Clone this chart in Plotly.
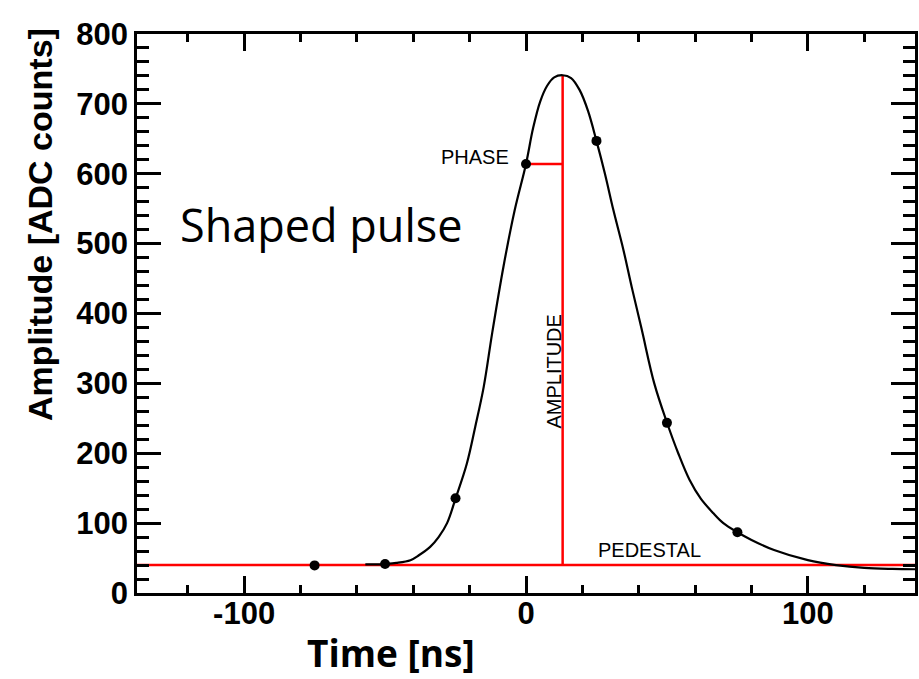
import plotly.graph_objects as go

# Sampled points (black dots)
sample_t = [-75, -50, -25, 0, 25, 50, 75]
sample_amp = [39.5, 41.5, 135.5, 614, 647, 243.5, 87]

# Fitted shaped-pulse curve
curve_t = [-57, -52, -50, -46, -41, -38, -34, -31, -28, -25, -21, -18, -15, -12, -8, -4,
           0, 2.5, 5, 7.5, 10, 13, 16, 19, 22, 25, 28, 31, 34.5, 37.5, 41, 45.5, 50,
           54, 58, 62, 66.5, 70, 75, 80, 88, 100, 110, 120, 130, 138]
curve_amp = [41, 41, 41.5, 43, 47, 54, 66, 80, 100, 135, 185, 238, 295, 372, 467, 548,
             614, 665, 703, 726, 738, 741, 737, 720, 690, 647, 600, 548, 492, 438, 378, 300, 244,
             200, 162, 135, 114, 100, 87, 76, 61.5, 47, 40, 36, 34.5, 34]

# Reconstruction parameters
pedestal = 40
peak_time = 13
peak_amp = 741
phase_time = 0
phase_amp = 614

x_range = [-138, 138]
y_range = [0, 800]

x_tickvals = [-100, 0, 100]
x_ticktext = ["-100", "0", "100"]

fig = go.Figure()

red = dict(color="#ff0000", width=2.5)
fig.add_trace(go.Scatter(x=x_range, y=[pedestal, pedestal], mode="lines",
                         line=red, hoverinfo="skip"))
fig.add_trace(go.Scatter(x=[peak_time, peak_time], y=[pedestal, peak_amp], mode="lines",
                         line=red, hoverinfo="skip"))
fig.add_trace(go.Scatter(x=[phase_time, peak_time], y=[phase_amp, phase_amp], mode="lines",
                         line=red, hoverinfo="skip"))
fig.add_trace(go.Scatter(x=curve_t, y=curve_amp, mode="lines",
                         line=dict(color="black", width=2.2, shape="spline", smoothing=1.0)))
fig.add_trace(go.Scatter(x=sample_t, y=sample_amp, mode="markers",
                         marker=dict(color="black", size=10)))

lab_font = dict(family="Liberation Sans, Arial, sans-serif", size=20, color="black")
fig.add_annotation(x=-18, y=624, text="PHASE", showarrow=False, font=lab_font,
                   xref="x", yref="y", xanchor="center", yanchor="middle")
fig.add_annotation(x=9.6, y=317, text="AMPLITUDE", showarrow=False, font=lab_font,
                   textangle=-90, xref="x", yref="y", xanchor="center", yanchor="middle")
fig.add_annotation(x=43.8, y=61.5, text="PEDESTAL", showarrow=False, font=lab_font,
                   xref="x", yref="y", xanchor="center", yanchor="middle")

# Titles
fig.add_annotation(xref="paper", yref="paper", x=(40 - 137) / 778, y=(593 - 225) / 559,
                   xanchor="center", yanchor="middle",
                   text="Amplitude [ADC counts]", textangle=-90, showarrow=False,
                   font=dict(family="Liberation Sans, Arial, sans-serif", size=34,
                             color="black", weight="bold"))
fig.add_annotation(xref="paper", yref="paper", x=(390.5 - 137) / 778, y=(593 - 652) / 559,
                   xanchor="center", yanchor="middle",
                   text="Time [ns]", showarrow=False,
                   font=dict(family="Open Sans, sans-serif", size=37, color="black",
                             weight="bold"))
fig.add_annotation(xref="paper", yref="paper", x=(178 - 137) / 778, y=(593 - 224) / 559,
                   xanchor="left", yanchor="middle", text="Shaped pulse", showarrow=False,
                   font=dict(family="Open Sans, sans-serif", size=45, color="black"))

tick_font = dict(family="Liberation Sans, Arial, sans-serif", size=31, color="black",
                 weight="bold")

fig.update_layout(
    width=919, height=679,
    margin=dict(l=137, r=4, t=34, b=86, autoexpand=False),
    paper_bgcolor="white", plot_bgcolor="white",
    showlegend=False,
    xaxis=dict(range=x_range, showgrid=False, zeroline=False, automargin=False,
               showline=True, linecolor="black", linewidth=2.5, mirror="allticks",
               ticks="inside", tickcolor="black", tickwidth=2.5, ticklen=17,
               tickmode="array", tickvals=x_tickvals, ticktext=x_ticktext,
               tickfont=tick_font, ticklabelstandoff=-9,
               minor=dict(ticks="inside", ticklen=8, tickwidth=2.5, tickcolor="black",
                          dtick=20, tick0=0, showgrid=False)),
    yaxis=dict(range=y_range, showgrid=False, zeroline=False, automargin=False,
               showline=True, linecolor="black", linewidth=2.5, mirror="allticks",
               ticks="inside", tickcolor="black", tickwidth=2.5, ticklen=24,
               tickmode="linear", tick0=0, dtick=100, tickfont=tick_font,
               ticklabelstandoff=0,
               minor=dict(ticks="inside", ticklen=12, tickwidth=2.5, tickcolor="black",
                          dtick=20, tick0=0, showgrid=False)),
)

fig.write_html("out.html", config={"displayModeBar": False},
               post_script="document.body.style.margin='0';document.body.style.overflow='hidden';")
